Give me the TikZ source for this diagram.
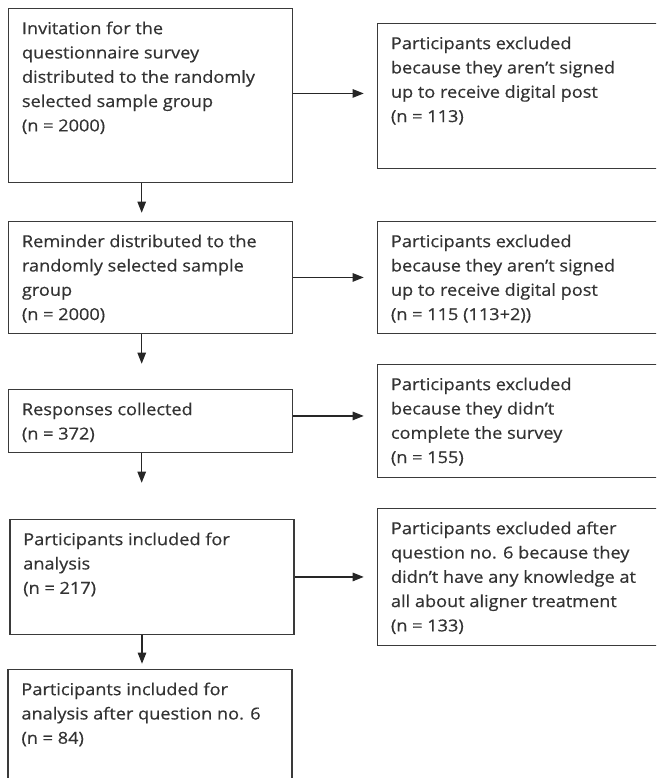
\documentclass[tikz,border=0pt]{standalone}
\usepackage{fontspec}
\setmainfont{Open Sans}[FakeStretch=1.1,FakeBold=0.5]
\usetikzlibrary{arrows.meta}
\definecolor{boxgray}{HTML}{3A3A3A}
\definecolor{textgray}{HTML}{333333}
\newcommand{\flowfont}{\fontsize{16.5}{24.3}\selectfont}
% text of a box: width, height, lines
\newcommand{\boxtext}[3]{\parbox[t][#2][t]{#1}{\raggedright\strut #3}}
\tikzset{
  flownode/.style = {anchor=north west, inner xsep=13.5pt, inner ysep=8.7pt, text=textgray, font=\flowfont},
  % box_L: left column, box_R: excluded participants
  box_L/.style = {flownode, draw=boxgray, line width=1.5pt},
  box_R/.style = {box_L},
  arr_V/.style = {->, draw=black!85, line width=1.2pt}
}

\begin{document}
\begin{tikzpicture}[x=1pt,y=-1pt,
    >={Triangle[length=11pt,width=8.5pt]}
    ]
    \useasboundingbox (0,0) rectangle (656,778);
    \clip (0,0) rectangle (656,778);
    % Left column:
    \node [box_L] (inv) at (7.7,7.7) {\boxtext{257pt}{156.6pt}{Invitation for the\\questionnaire survey\\distributed to the randomly\\selected sample group\\(n = 2000)}};
    \node [box_L] (rem) at (7.7,220.7) {\boxtext{257pt}{94.6pt}{Reminder distributed to the\\randomly selected sample\\group\\(n = 2000)}};
    \node [box_L] (resp) at (7.7,388.7) {\boxtext{257pt}{45.6pt}{Responses collected\\(n = 372)}};
    \node [box_L] (incl) at (9,518.7) {\boxtext{257pt}{97.6pt}{Participants included for\\analysis\\(n = 217)}};
    \node [box_L] (fin) at (7.2,668.7) {\boxtext{257pt}{130pt}{Participants included for\\analysis after question no. 6\\(n = 84)}};
    % Right column - excluded:
    \node [box_R] (exA) at (376.7,22.7) {\boxtext{287pt}{127.6pt}{Participants excluded\\because they aren’t signed\\up to receive digital post\\(n = 113)}};
    \node [box_R] (exB) at (376.7,220.7) {\boxtext{287pt}{94.6pt}{Participants excluded\\because they aren’t signed\\up to receive digital post\\(n = 115 (113+2))}};
    \node [box_R] (exC) at (376.7,363.7) {\boxtext{287pt}{95.6pt}{Participants excluded\\because they didn’t\\complete the survey\\(n = 155)}};
    \node [box_R] (exD) at (376.7,507.7) {\boxtext{287pt}{119.6pt}{Participants excluded after\\question no. 6 because they\\didn’t have any knowledge at\\all about aligner treatment\\(n = 133)}};
    % Arrows down
    \draw [arr_V, shorten >=8pt] ([xshift=134pt]inv.south west) -- ([xshift=134pt]inv.south west |- rem.north);
    \draw [arr_V, shorten >=25pt] ([xshift=134pt]rem.south west) -- ([xshift=134pt]rem.south west |- resp.north);
    \draw [arr_V, shorten >=36pt] ([xshift=134pt]resp.south west) -- ([xshift=134pt]resp.south west |- incl.north);
    \draw [arr_V, shorten >=5pt] ([xshift=133pt]incl.south west) -- ([xshift=133pt]incl.south west |- fin.north);
    % Arrows right
    \draw [arr_V, shorten >=13pt] ([yshift=2pt]inv.east) -- ([yshift=2pt]inv.east -| exA.west);
    \draw [arr_V, shorten >=13pt] (rem.east) -- (rem.east -| exB.west);
    \draw [arr_V, shorten >=13pt] ([yshift=5pt]resp.east) -- ([yshift=5pt]resp.east -| exC.west);
    \draw [arr_V, shorten >=13pt] (incl.east) -- (incl.east -| exD.west);
\end{tikzpicture}
\end{document}
